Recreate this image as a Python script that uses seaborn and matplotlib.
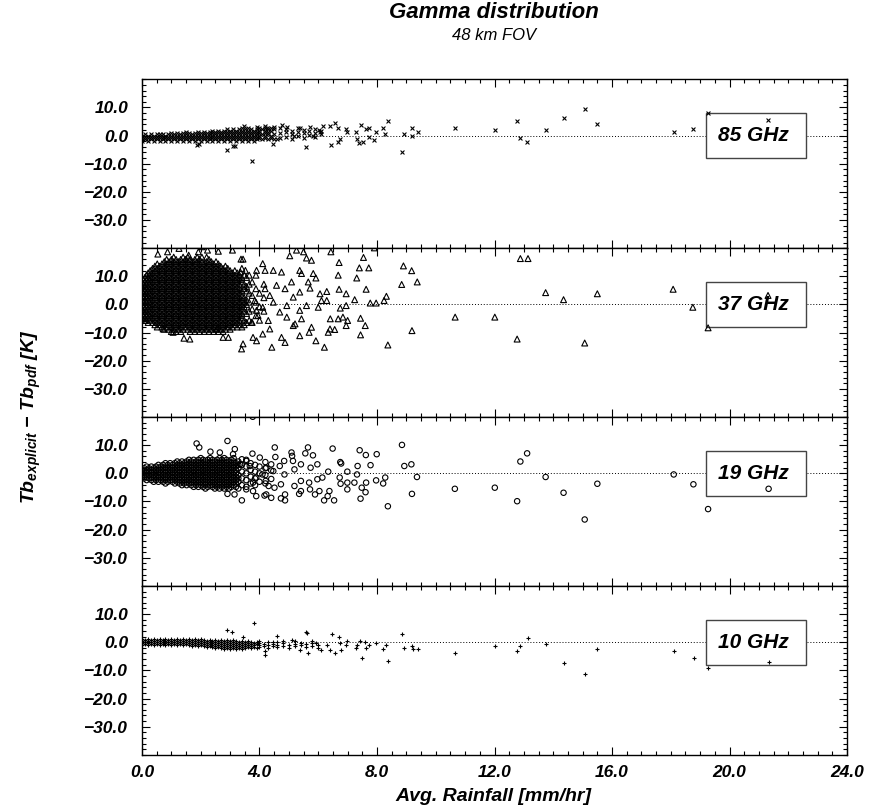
import numpy as np
import pandas as pd
import matplotlib
matplotlib.use("Agg")
import matplotlib.pyplot as plt
from matplotlib.patches import Rectangle
from matplotlib.ticker import MultipleLocator, FuncFormatter
import seaborn as sns

# ==========================================
# THEME
# ==========================================
sns.set_style("ticks")
plt.rcParams['font.family'] = ['Liberation Sans', 'DejaVu Sans']
plt.rcParams['font.weight'] = 'bold'
plt.rcParams['font.style'] = 'italic'
plt.rcParams['text.color'] = 'black'
plt.rcParams['axes.labelcolor'] = 'black'
plt.rcParams['xtick.color'] = 'black'
plt.rcParams['ytick.color'] = 'black'
plt.rcParams['mathtext.fontset'] = 'custom'
plt.rcParams['mathtext.rm'] = 'Liberation Sans:bold:italic'
plt.rcParams['mathtext.it'] = 'Liberation Sans:bold:italic'
plt.rcParams['mathtext.bf'] = 'Liberation Sans:bold:italic'

# ==========================================
# DATA
# ==========================================
channels = ["85 GHz", "37 GHz", "19 GHz", "10 GHz"]
y_ticks = [-30.0, -20.0, -10.0, 0.0, 10.0]
x_ticks = [0.0, 4.0, 8.0, 12.0, 16.0, 20.0, 24.0]

# --- 85 GHz: dense band near zero, one x per column ---
cloud85_x = [0.0, 0.1, 0.2, 0.3, 0.4, 0.5, 0.6, 0.7, 0.8, 0.9, 1.0, 1.1, 1.2, 1.3, 1.4,
             1.5, 1.6, 1.7, 1.8, 1.9, 2.0, 2.1, 2.2, 2.3, 2.4, 2.5, 2.6, 2.7, 2.8, 2.9,
             3.0, 3.1, 3.2, 3.3, 3.4, 3.5, 3.6, 3.7, 3.8, 3.9, 4.0, 4.1, 4.2, 4.3, 4.4,
             4.5, 4.7, 4.9, 5.1, 5.3, 5.5, 5.7, 5.9, 6.1]
cloud85_y = [[-1.8, -0.9, 0.0], [-1.35, -0.45, 0.45], [-1.8, -0.9, 0.0],
             [-1.35, -0.45, 0.45], [-1.8, -0.9, 0.0], [-1.35, -0.45, 0.45],
             [-1.8, -0.9, 0.0, 0.6], [-1.35, -0.45, 0.45], [-1.8, -0.9, 0.0],
             [-1.35, -0.45, 0.45], [-1.8, -0.9, 0.0, 0.9], [-1.35, -0.45, 0.45],
             [-1.8, -0.9, 0.0, 0.9], [-1.35, -0.45, 0.45], [-1.8, -0.9, 0.0, 0.9],
             [-1.35, -0.45, 0.45, 1.35], [-1.8, -0.9, 0.0, 0.9], [-1.35, -0.45, 0.45],
             [-1.8, -0.9, 0.0, 0.9], [-1.35, -0.45, 0.45, 1.35], [-1.8, -0.9, 0.0, 0.9],
             [-1.35, -0.45, 0.45, 1.35], [-1.8, -0.9, 0.0, 0.9], [-1.35, -0.45, 0.45, 1.35],
             [-1.8, -0.9, 0.0, 0.9, 1.8], [-1.35, -0.45, 0.45, 1.35],
             [-1.8, -0.9, 0.0, 0.9, 1.8], [-1.35, -0.45, 0.45, 1.35],
             [-1.8, -0.9, 0.0, 0.9, 1.8], [-1.35, -0.45, 0.45, 1.35, 2.25],
             [-1.8, -0.9, 0.0, 0.9, 1.8], [-1.35, -0.45, 0.45, 1.35, 2.25],
             [-1.8, -0.9, 0.0, 0.9, 1.8], [-1.35, -0.45, 0.45, 1.35, 2.25],
             [-1.8, -0.9, 0.0, 0.9, 1.8, 2.7], [-1.35, -0.45, 0.45, 1.35, 2.25],
             [-1.8, -0.9, 0.0, 0.9, 1.8, 2.7], [-1.35, -0.45, 0.45, 1.35, 2.25],
             [-1.8, -0.9, 0.0, 0.9, 1.8], [-1.35, -0.45, 0.45, 1.35, 2.25, 3.1],
             [-0.9, 0.0, 0.9, 1.8, 2.7], [-1.35, 0.45, 2.25], [-0.9, 0.0, 0.9, 1.8, 2.7],
             [-1.35, 0.45, 1.35, 2.25], [-0.9, 0.0, 1.8, 2.7], [-1.35, 0.45, 2.25, 3.1],
             [-0.9, 0.9, 2.7], [-0.4, 1.35, 2.25], [-1.2, 0.5, 1.8], [-0.3, 1.2, 2.6],
             [-0.8, 0.8, 2.0], [0.2, 1.6], [-0.5, 1.0, 2.4], [0.4, 1.8]]
out85_x = [1.86, 1.95, 2.88, 3.10, 3.15, 3.76, 3.46, 4.19, 4.24, 4.47, 4.58, 4.75, 4.93,
           5.16, 5.38, 5.60, 5.72, 5.83, 6.01, 6.06, 6.16, 6.40, 6.45, 6.56, 6.68, 6.74,
           6.68, 6.95, 6.98, 7.29, 7.31, 7.38, 7.45, 7.54, 7.63, 7.72, 7.72, 7.91, 7.95,
           8.22, 8.27, 8.37, 8.86, 8.93, 9.20, 9.19, 9.40, 10.66, 12.01, 12.77, 12.88,
           13.11, 13.74, 14.35, 15.07, 15.50, 18.10, 18.75, 19.27, 21.32]
out85_y = [-3.3, -2.9, -5.0, -3.8, -3.6, -8.9, 3.3, 3.3, 2.6, -3.0, -1.2, 3.6, 3.0,
           0.0, 2.6, -4.2, 3.0, 0.0, 2.1, 1.2, 3.3, 3.3, -3.3, 4.5, 2.6, -1.2,
           -2.4, 2.4, 1.4, 1.4, -1.2, -2.6, 3.6, -2.4, 2.4, 2.6, -0.6, -1.4, 1.4,
           2.6, 0.6, 5.2, -5.7, 0.6, 2.7, -0.2, 1.4, 2.7, 2.1, 5.1, -1.0,
           -2.4, 2.1, 6.2, 9.3, 4.2, 1.4, 2.4, 8.1, 5.7]

# --- 37 GHz: wide solid cloud ---
cloud37_x = [0.00, 0.05, 0.10, 0.15, 0.21, 0.28, 0.36, 0.44, 0.52, 0.60, 0.68, 0.76,
             0.84, 0.92, 1.00, 1.08, 1.16, 1.24, 1.32, 1.40, 1.48, 1.56, 1.64, 1.72,
             1.80, 1.88, 1.96, 2.04, 2.12, 2.20, 2.28, 2.36, 2.44, 2.52, 2.60, 2.68,
             2.76, 2.84, 2.92, 3.00, 3.08, 3.16, 3.24, 3.32, 3.40, 3.48, 3.56, 3.65,
             3.75, 3.88, 4.00, 4.15]
cloud37_y = [
    [-4.8, -3.2, -1.6, 0.0, 1.6, 3.2, 4.8, 6.4, 8.0],
    [-4.0, -2.4, -0.8, 0.8, 2.4, 4.0, 5.6, 7.2, 8.8],
    [-4.8, -3.2, -1.6, 0.0, 1.6, 3.2, 4.8, 6.4, 8.0, 9.6],
    [-5.6, -4.0, -2.4, -0.8, 0.8, 2.4, 4.0, 5.6, 7.2, 8.8, 10.4],
    [-6.4, -4.8, -3.2, -1.6, 0.0, 1.6, 3.2, 4.8, 6.4, 8.0, 9.6, 11.2],
    [-5.6, -4.0, -2.4, -0.8, 0.8, 2.4, 4.0, 5.6, 7.2, 8.8, 10.4, 12.0],
    [-6.4, -4.8, -3.2, -1.6, 0.0, 1.6, 3.2, 4.8, 6.4, 8.0, 9.6, 11.2, 12.8],
    [-7.2, -5.6, -4.0, -2.4, -0.8, 0.8, 2.4, 4.0, 5.6, 7.2, 8.8, 10.4, 12.0, 13.6],
    [-8.0, -6.4, -4.8, -3.2, -1.6, 0.0, 1.6, 3.2, 4.8, 6.4, 8.0, 9.6, 11.2, 12.8, 14.4],
    [-7.2, -5.6, -4.0, -2.4, -0.8, 0.8, 2.4, 4.0, 5.6, 7.2, 8.8, 10.4, 12.0, 13.6],
    [-8.0, -6.4, -4.8, -3.2, -1.6, 0.0, 1.6, 3.2, 4.8, 6.4, 8.0, 9.6, 11.2, 12.8, 14.4],
    [-8.8, -7.2, -5.6, -4.0, -2.4, -0.8, 0.8, 2.4, 4.0, 5.6, 7.2, 8.8, 10.4, 12.0, 13.6, 15.2],
    [-8.0, -6.4, -4.8, -3.2, -1.6, 0.0, 1.6, 3.2, 4.8, 6.4, 8.0, 9.6, 11.2, 12.8, 14.4, 16.0],
    [-8.8, -7.2, -5.6, -4.0, -2.4, -0.8, 0.8, 2.4, 4.0, 5.6, 7.2, 8.8, 10.4, 12.0, 13.6, 15.2],
    [-9.6, -8.0, -6.4, -4.8, -3.2, -1.6, 0.0, 1.6, 3.2, 4.8, 6.4, 8.0, 9.6, 11.2, 12.8, 14.4, 16.0],
    [-8.8, -7.2, -5.6, -4.0, -2.4, -0.8, 0.8, 2.4, 4.0, 5.6, 7.2, 8.8, 10.4, 12.0, 13.6, 15.2, 16.8],
    [-9.6, -8.0, -6.4, -4.8, -3.2, -1.6, 0.0, 1.6, 3.2, 4.8, 6.4, 8.0, 9.6, 11.2, 12.8, 14.4, 16.0],
    [-8.8, -7.2, -5.6, -4.0, -2.4, -0.8, 0.8, 2.4, 4.0, 5.6, 7.2, 8.8, 10.4, 12.0, 13.6, 15.2],
    [-9.6, -8.0, -6.4, -4.8, -3.2, -1.6, 0.0, 1.6, 3.2, 4.8, 6.4, 8.0, 9.6, 11.2, 12.8, 14.4, 16.0],
    [-8.8, -7.2, -5.6, -4.0, -2.4, -0.8, 0.8, 2.4, 4.0, 5.6, 7.2, 8.8, 10.4, 12.0, 13.6, 15.2, 16.8],
    [-8.0, -6.4, -4.8, -3.2, -1.6, 0.0, 1.6, 3.2, 4.8, 6.4, 8.0, 9.6, 11.2, 12.8, 14.4, 16.0],
    [-8.8, -7.2, -5.6, -4.0, -2.4, -0.8, 0.8, 2.4, 4.0, 5.6, 7.2, 8.8, 10.4, 12.0, 13.6, 15.2, 16.8],
    [-9.6, -8.0, -6.4, -4.8, -3.2, -1.6, 0.0, 1.6, 3.2, 4.8, 6.4, 8.0, 9.6, 11.2, 12.8, 14.4, 16.0],
    [-8.8, -7.2, -5.6, -4.0, -2.4, -0.8, 0.8, 2.4, 4.0, 5.6, 7.2, 8.8, 10.4, 12.0, 13.6, 15.2],
    [-9.6, -8.0, -6.4, -4.8, -3.2, -1.6, 0.0, 1.6, 3.2, 4.8, 6.4, 8.0, 9.6, 11.2, 12.8, 14.4, 16.0],
    [-8.8, -7.2, -5.6, -4.0, -2.4, -0.8, 0.8, 2.4, 4.0, 5.6, 7.2, 8.8, 10.4, 12.0, 13.6, 15.2, 16.8],
    [-9.6, -8.0, -6.4, -4.8, -3.2, -1.6, 0.0, 1.6, 3.2, 4.8, 6.4, 8.0, 9.6, 11.2, 12.8, 14.4, 16.0],
    [-8.8, -7.2, -5.6, -4.0, -2.4, -0.8, 0.8, 2.4, 4.0, 5.6, 7.2, 8.8, 10.4, 12.0, 13.6, 15.2, 16.8],
    [-9.6, -8.0, -6.4, -4.8, -3.2, -1.6, 0.0, 1.6, 3.2, 4.8, 6.4, 8.0, 9.6, 11.2, 12.8, 14.4],
    [-8.8, -7.2, -5.6, -4.0, -2.4, -0.8, 0.8, 2.4, 4.0, 5.6, 7.2, 8.8, 10.4, 12.0, 13.6, 15.2, 16.8],
    [-9.6, -8.0, -6.4, -4.8, -3.2, -1.6, 0.0, 1.6, 3.2, 4.8, 6.4, 8.0, 9.6, 11.2, 12.8, 14.4, 16.0],
    [-8.8, -7.2, -5.6, -4.0, -2.4, -0.8, 0.8, 2.4, 4.0, 5.6, 7.2, 8.8, 10.4, 12.0, 13.6, 15.2],
    [-9.6, -8.0, -6.4, -4.8, -3.2, -1.6, 0.0, 1.6, 3.2, 4.8, 6.4, 8.0, 9.6, 11.2, 12.8, 14.4],
    [-8.8, -7.2, -5.6, -4.0, -2.4, -0.8, 0.8, 2.4, 4.0, 5.6, 7.2, 8.8, 10.4, 12.0, 13.6, 15.2],
    [-9.6, -8.0, -6.4, -4.8, -3.2, -1.6, 0.0, 1.6, 3.2, 4.8, 6.4, 8.0, 9.6, 11.2, 12.8, 14.4],
    [-8.8, -7.2, -5.6, -4.0, -2.4, -0.8, 0.8, 2.4, 4.0, 5.6, 7.2, 8.8, 10.4, 12.0, 13.6],
    [-9.6, -8.0, -6.4, -4.8, -3.2, -1.6, 0.0, 1.6, 3.2, 4.8, 6.4, 8.0, 9.6, 11.2, 12.8],
    [-8.8, -7.2, -5.6, -4.0, -2.4, -0.8, 0.8, 2.4, 4.0, 5.6, 7.2, 8.8, 10.4, 12.0, 13.6],
    [-8.0, -6.4, -4.8, -3.2, -1.6, 0.0, 1.6, 3.2, 4.8, 6.4, 8.0, 9.6, 11.2, 12.8],
    [-8.8, -7.2, -5.6, -4.0, -2.4, -0.8, 0.8, 2.4, 4.0, 5.6, 7.2, 8.8, 10.4, 12.0],
    [-8.0, -6.4, -4.8, -3.2, -1.6, 0.0, 1.6, 3.2, 4.8, 6.4, 8.0, 9.6, 11.2],
    [-7.2, -5.6, -4.0, -2.4, -0.8, 0.8, 2.4, 4.0, 5.6, 7.2, 8.8, 10.4, 12.0],
    [-8.0, -6.4, -4.8, -3.2, -1.6, 0.0, 1.6, 3.2, 4.8, 6.4, 8.0, 9.6, 11.2],
    [-7.2, -5.6, -4.0, -2.4, -0.8, 0.8, 2.4, 4.0, 5.6, 7.2, 8.8, 10.4],
    [-8.0, -4.8, -3.2, -1.6, 0.0, 1.6, 3.2, 4.8, 8.0, 9.6, 12.8],
    [-7.2, -5.6, -2.4, -0.8, 0.8, 2.4, 5.6, 7.2, 10.4],
    [-6.4, -3.2, 0.0, 1.6, 4.8, 6.4, 9.6],
    [-5.6, -2.4, 0.8, 4.0, 7.2, 10.4],
    [-6.4, -1.6, 3.2, 8.0],
    [-4.0, 0.8, 5.6, 10.4],
    [-5.6, -0.8, 4.0],
    [-2.4, 2.4, 7.2]]
out37_x = [0.54, 0.87, 1.26, 1.59, 1.92, 2.05, 2.23, 2.60, 3.08, 3.37, 3.44, 3.35, 3.52,
           3.90, 4.11, 4.19, 4.47, 4.75, 5.03, 5.26, 5.50, 5.60, 5.77, 5.37, 5.43, 5.83,
           5.92, 5.66, 5.72, 6.06, 6.29, 6.11, 6.29, 6.00, 6.43, 6.71, 6.68, 6.71, 6.95,
           6.95, 6.75, 7.24, 7.31, 7.40, 7.72, 7.54, 7.63, 7.77, 7.97, 7.91, 8.24, 8.32,
           8.90, 9.18, 8.84, 9.37, 8.37, 9.19, 10.66, 12.01, 12.77, 6.41, 6.68, 6.84,
           6.95, 7.00, 7.44, 7.60, 7.44, 6.34, 6.40, 6.56, 6.21, 5.92, 5.37, 5.69, 5.77,
           5.43, 5.21, 4.93, 4.87, 4.42, 4.75, 4.11, 3.90, 3.78, 3.44, 3.39, 2.94, 2.76,
           2.55, 1.63, 1.43, 1.06, 0.72, 0.10, 4.47, 4.69, 4.93, 5.15, 5.37, 5.60, 4.30,
           4.35, 5.15, 4.19, 4.35, 4.58, 4.87, 5.09, 5.37, 3.84, 3.90, 3.95, 3.73, 4.11,
           12.88, 13.14, 13.74, 14.35, 15.07, 15.50, 18.08, 18.75, 19.27, 21.31]
out37_y = [17.9, 18.7, 19.9, 17.5, 18.7, 20.5, 19.3, 18.9, 19.3, 16.1, 16.1, 11.5, 12.1,
           12.1, 14.5, 12.1, 12.1, 11.5, 17.3, 19.3, 18.7, 16.5, 15.7, 12.1, 11.0, 11.0,
           9.4, 8.0, 5.8, 3.8, 4.6, 1.4, 1.4, -1.0, 18.7, 14.9, 10.4, 5.4, 3.8,
           -0.4, -1.3, 1.7, 9.4, 13.0, 13.0, 16.7, 5.4, 0.5, 0.5, 20.1, 1.4, 2.9,
           13.7, 12.0, 7.1, 8.0, -14.4, -9.3, -4.5, -4.5, -12.3, -5.1, -5.1, -4.5,
           -7.5, -5.7, -4.9, -7.5, -10.8, -9.9, -8.7, -8.9, -15.2, -12.9, -11.1, -9.9, -8.1,
           -5.1, -6.9, -4.5, -13.5, -15.2, -11.7, -10.5, -12.9, -11.7, -14.0, -15.8, -11.7, -11.7,
           -8.7, -12.3, -12.0, -9.9, -8.7, -5.7, 0.8, -2.7, -0.4, 2.6, -2.1, -0.4, -5.7,
           -8.7, -7.5, 5.6, 3.2, 6.8, 5.6, 8.0, 4.4, 1.4, -2.1, -3.9, -6.3, -1.0,
           16.3, 16.3, 4.2, 1.7, -13.7, 3.8, 5.4, -1.0, -8.3, 3.2]

# --- 19 GHz: medium solid cloud ---
cloud19_x = [0.00, 0.08, 0.16, 0.24, 0.32, 0.40, 0.48, 0.56, 0.64, 0.72, 0.80, 0.88,
             0.96, 1.04, 1.12, 1.20, 1.28, 1.36, 1.44, 1.52, 1.60, 1.68, 1.76, 1.84,
             1.92, 2.00, 2.08, 2.16, 2.24, 2.32, 2.40, 2.48, 2.56, 2.64, 2.72, 2.80,
             2.88, 2.96, 3.04, 3.12, 3.20, 3.28, 3.40, 3.55, 3.70, 3.85, 4.00, 4.20,
             4.40]
cloud19_y = [
    [-1.2, 0.0, 1.2],
    [-1.8, -0.6, 0.6, 1.8],
    [-2.4, -1.2, 0.0, 1.2, 2.4],
    [-1.8, -0.6, 0.6, 1.8],
    [-2.4, -1.2, 0.0, 1.2, 2.4],
    [-3.0, -1.8, -0.6, 0.6, 1.8],
    [-2.4, -1.2, 0.0, 1.2, 2.4],
    [-3.0, -1.8, -0.6, 0.6, 1.8, 3.0],
    [-2.4, -1.2, 0.0, 1.2, 2.4],
    [-3.0, -1.8, -0.6, 0.6, 1.8, 3.0],
    [-3.6, -2.4, -1.2, 0.0, 1.2, 2.4, 3.6],
    [-3.0, -1.8, -0.6, 0.6, 1.8, 3.0],
    [-2.4, -1.2, 0.0, 1.2, 2.4, 3.6],
    [-3.0, -1.8, -0.6, 0.6, 1.8, 3.0],
    [-3.6, -2.4, -1.2, 0.0, 1.2, 2.4, 3.6],
    [-3.0, -1.8, -0.6, 0.6, 1.8, 3.0, 4.2],
    [-3.6, -2.4, -1.2, 0.0, 1.2, 2.4, 3.6],
    [-4.2, -3.0, -1.8, -0.6, 0.6, 1.8, 3.0, 4.2],
    [-3.6, -2.4, -1.2, 0.0, 1.2, 2.4, 3.6],
    [-4.2, -3.0, -1.8, -0.6, 0.6, 1.8, 3.0, 4.2],
    [-3.6, -2.4, -1.2, 0.0, 1.2, 2.4, 3.6, 4.8],
    [-4.2, -3.0, -1.8, -0.6, 0.6, 1.8, 3.0, 4.2],
    [-4.8, -3.6, -2.4, -1.2, 0.0, 1.2, 2.4, 3.6, 4.8],
    [-4.2, -3.0, -1.8, -0.6, 0.6, 1.8, 3.0, 4.2],
    [-4.8, -3.6, -2.4, -1.2, 0.0, 1.2, 2.4, 3.6, 4.8],
    [-4.2, -3.0, -1.8, -0.6, 0.6, 1.8, 3.0, 4.2, 5.4],
    [-4.8, -3.6, -2.4, -1.2, 0.0, 1.2, 2.4, 3.6, 4.8],
    [-5.4, -4.2, -3.0, -1.8, -0.6, 0.6, 1.8, 3.0, 4.2],
    [-4.8, -3.6, -2.4, -1.2, 0.0, 1.2, 2.4, 3.6, 4.8],
    [-4.2, -3.0, -1.8, -0.6, 0.6, 1.8, 3.0, 4.2, 5.4],
    [-4.8, -3.6, -2.4, -1.2, 0.0, 1.2, 2.4, 3.6, 4.8],
    [-5.4, -4.2, -3.0, -1.8, -0.6, 0.6, 1.8, 3.0, 4.2],
    [-4.8, -3.6, -2.4, -1.2, 0.0, 1.2, 2.4, 3.6, 4.8],
    [-5.4, -4.2, -3.0, -1.8, -0.6, 0.6, 1.8, 3.0, 4.2, 5.4],
    [-4.8, -3.6, -2.4, -1.2, 0.0, 1.2, 2.4, 3.6, 4.8],
    [-5.4, -4.2, -3.0, -1.8, -0.6, 0.6, 1.8, 3.0, 4.2, 5.4],
    [-4.8, -3.6, -2.4, -1.2, 0.0, 1.2, 2.4, 3.6, 4.8],
    [-5.4, -4.2, -3.0, -1.8, -0.6, 0.6, 1.8, 3.0, 4.2],
    [-4.8, -3.6, -2.4, -1.2, 0.0, 1.2, 2.4, 3.6, 4.8],
    [-4.2, -3.0, -1.8, -0.6, 0.6, 1.8, 3.0, 4.2, 5.4],
    [-4.8, -3.6, -2.4, -1.2, 0.0, 1.2, 2.4, 3.6],
    [-5.4, -3.0, -1.8, -0.6, 1.8, 3.0, 4.2],
    [-4.2, -1.8, 0.6, 3.0, 5.0],
    [-4.8, -2.4, 0.0, 2.4, 4.8],
    [-3.6, -1.2, 1.2, 3.6],
    [-4.2, -1.8, 0.6, 3.0],
    [-3.0, 0.0, 2.4],
    [-3.6, -0.6, 1.8, 4.0],
    [-2.0, 1.0, 3.2]]
out19_x = [3.77, 1.86, 1.95, 2.91, 3.16, 2.33, 2.65, 3.10, 3.76, 4.01, 4.52, 4.54, 4.84,
           5.09, 5.11, 5.65, 5.56, 5.82, 5.97, 6.34, 6.49, 6.75, 6.78, 7.41, 7.62, 7.99,
           7.78, 7.34, 7.32, 6.99, 6.73, 6.99, 6.99, 6.76, 7.23, 7.48, 7.61, 7.44, 7.63,
           7.97, 8.28, 8.21, 8.37, 8.85, 8.93, 9.17, 9.36, 9.19, 10.65, 6.20, 6.32, 6.54,
           6.38, 6.04, 5.89, 5.72, 5.35, 5.41, 4.87, 4.73, 4.87, 4.40, 4.17, 4.23, 3.89,
           3.40, 3.15, 2.91, 3.78, 3.55, 4.51, 4.73, 5.19, 5.41, 5.69, 5.97, 6.14, 4.85,
           5.19, 5.41, 5.74, 4.23, 4.47, 4.69, 5.14, 4.10, 4.21, 4.31, 3.78, 3.89, 3.67,
           3.55, 3.34, 12.01, 12.77, 12.88, 13.11, 13.74, 14.35, 15.07, 15.50, 18.10,
           18.77, 19.27, 21.33]
out19_y = [20.1, 10.6, 9.2, 11.5, 8.6, 7.7, 7.4, 6.8, 7.0, 5.6, 9.2, 5.8, 4.4,
           7.4, 6.2, 9.2, 7.1, 6.4, 3.2, 0.6, 8.8, 4.0, 3.5, 8.2, 6.5, 6.8,
           2.9, 2.6, -0.4, 0.6, -1.5, -3.3, -5.7, -3.7, -3.3, -5.1, -6.7, -9.0, -3.3,
           -2.5, -1.5, -3.6, -11.7, 10.1, 2.6, 3.2, -1.3, -7.3, -5.5, -9.6, -8.1, -9.6,
           -6.3, -6.3, -7.5, -5.7, -7.3, -6.3, -9.6, -8.9, -7.5, -8.7, -7.9, -7.5, -8.1,
           -9.6, -7.5, -7.3, -6.3, -5.7, -5.1, -3.9, -4.5, -2.7, -3.3, -2.1, -1.5, -0.4,
           1.4, 3.2, 2.0, 2.0, 0.8, 2.6, 4.4, -0.4, -2.7, -4.5, -3.3, -1.5, 2.6,
           4.4, 3.2, -5.1, -9.9, 4.2, 7.1, -1.3, -6.9, -16.4, -3.7, -0.4,
           -3.9, -12.7, -5.5]

# --- 10 GHz: thin band ---
cloud10_x = [0.0, 0.1, 0.2, 0.3, 0.4, 0.5, 0.6, 0.7, 0.8, 0.9, 1.0, 1.1, 1.2, 1.3, 1.4,
             1.5, 1.6, 1.7, 1.8, 1.9, 2.0, 2.1, 2.2, 2.3, 2.4, 2.5, 2.6, 2.7, 2.8, 2.9,
             3.0, 3.1, 3.2, 3.3, 3.4, 3.5, 3.6, 3.7, 3.8, 3.9, 4.0, 4.15, 4.3, 4.45,
             4.6, 4.8, 5.0, 5.2, 5.4, 5.6, 5.8, 6.0]
cloud10_y = [[-0.9, -0.2, 0.5, 1.2], [-0.55, 0.15, 0.85], [-0.9, -0.2, 0.5, 1.2],
             [-0.55, 0.15, 0.85], [-0.9, -0.2, 0.5, 1.2], [-0.55, 0.15, 0.85],
             [-0.9, -0.2, 0.5, 1.2], [-0.55, 0.15, 0.85], [-0.9, -0.2, 0.5, 1.2],
             [-0.55, 0.15, 0.85], [-0.9, -0.2, 0.5, 1.2], [-0.55, 0.15, 0.85],
             [-0.9, -0.2, 0.5, 1.2], [-0.55, 0.15, 0.85], [-0.9, -0.2, 0.5, 1.2],
             [-0.55, 0.15, 0.85], [-0.9, -0.2, 0.5, 1.2], [-1.25, -0.55, 0.15, 0.85],
             [-0.9, -0.2, 0.5, 1.2], [-1.25, -0.55, 0.15, 0.85], [-0.9, -0.2, 0.5, 1.2],
             [-1.25, -0.55, 0.15, 0.85], [-1.6, -0.9, -0.2, 0.5], [-1.25, -0.55, 0.15, 0.85],
             [-1.6, -0.9, -0.2, 0.5], [-1.95, -1.25, -0.55, 0.15, 0.85],
             [-1.6, -0.9, -0.2, 0.5], [-1.95, -1.25, -0.55, 0.15, 0.85],
             [-2.3, -1.6, -0.9, -0.2, 0.5], [-1.95, -1.25, -0.55, 0.15, 0.85],
             [-2.3, -1.6, -0.9, -0.2, 0.5], [-1.95, -1.25, -0.55, 0.15, 0.85],
             [-2.3, -1.6, -0.9, -0.2, 0.5], [-1.95, -1.25, -0.55, 0.15],
             [-2.3, -1.6, -0.9, -0.2, 0.5], [-1.95, -1.25, -0.55, 0.15],
             [-1.6, -0.9, -0.2, 0.5], [-1.95, -1.25, -0.55, 0.15], [-1.6, -0.9, -0.2],
             [-1.95, -0.55, 0.15], [-1.6, -0.9, -0.2, 0.5], [-1.25, -0.55],
             [-2.0, -0.9, 0.2], [-1.4, -0.6], [-1.8, -0.9, 0.0], [-1.2, -0.4, 0.4],
             [-1.9, -1.0], [-1.5, -0.6, 0.3], [-1.1, -0.2], [-1.7, -0.8],
             [-1.3, -0.4, 0.4], [-0.9, -2.0]]
out10_x = [3.80, 2.91, 3.08, 3.44, 4.18, 4.18, 4.58, 4.47, 5.09, 5.38, 5.60, 5.62, 5.65,
           5.94, 6.11, 6.29, 6.46, 6.40, 6.57, 6.71, 6.74, 6.76, 6.98, 6.96, 7.29, 7.33,
           7.43, 7.49, 7.58, 7.63, 7.72, 7.95, 8.21, 8.31, 8.37, 8.85, 8.93, 9.19, 9.22,
           9.40, 10.65, 12.01, 12.77, 12.88, 13.14, 13.74, 14.35, 15.07, 15.50, 18.10,
           18.78, 19.27, 21.33]
out10_y = [6.8, 4.4, 3.6, 2.0, -4.5, -3.3, 2.3, 0.2, 0.8, -2.7, 3.8, 3.2, -3.9,
           -0.4, -2.7, -1.0, 2.9, -2.7, -3.7, 2.0, -0.4, -2.7, 0.6, -1.0, -2.1, -1.0,
           0.6, -5.7, 0.2, -2.1, -1.0, -0.4, -2.5, -1.0, -6.5, 2.9, -2.1, -1.3, -2.5,
           -2.5, -3.7, -1.5, -3.0, -1.3, 1.4, -0.6, -7.5, -11.3, -2.5, -3.3,
           -5.5, -9.3, -6.9]

clouds = {"85 GHz": (cloud85_x, cloud85_y, out85_x, out85_y),
          "37 GHz": (cloud37_x, cloud37_y, out37_x, out37_y),
          "19 GHz": (cloud19_x, cloud19_y, out19_x, out19_y),
          "10 GHz": (cloud10_x, cloud10_y, out10_x, out10_y)}

rows = []
for ch, (cx, cy, ox, oy) in clouds.items():
    for x, ys in zip(cx, cy):
        rows += [(ch, x, y) for y in ys]
    rows += [(ch, x, y) for x, y in zip(ox, oy)]
df = pd.DataFrame(rows, columns=["channel", "rain", "dtb"])

# marker style per channel: (marker, size, open face?)
marker_style = {"85 GHz": ("x", 8, False),
                "37 GHz": ("^", 18, True),
                "19 GHz": ("o", 15, True),
                "10 GHz": ("+", 11, False)}

# ==========================================
# FIGURE
# ==========================================
fig, axes = plt.subplots(4, 1, figsize=(8.71, 8.09), dpi=100, sharex=True)
fig.subplots_adjust(left=0.163, right=0.9725, top=0.902, bottom=0.067, hspace=0)

minus_fmt = FuncFormatter(lambda v, p: f"{v:.1f}".replace("-", "\u2212"))

for ax, ch in zip(axes, channels):
    sub = df[df["channel"] == ch]
    mk, size, hollow = marker_style[ch]

    ax.axhline(0, color="black", lw=0.7, ls=(0, (1, 2)), zorder=1)
    ax.add_patch(Rectangle((19.2, -8.0), 3.4, 16.0, fc="white", ec="#444444",
                           lw=1.0, zorder=2))

    if hollow:
        sns.scatterplot(data=sub, x="rain", y="dtb", marker=mk, s=size,
                        facecolors="none", edgecolor="black", linewidth=0.8,
                        ax=ax, zorder=3)
    else:
        sns.scatterplot(data=sub, x="rain", y="dtb", marker=mk, s=size,
                        color="black", linewidth=0.8, ax=ax, zorder=3)

    ax.text(20.8, 0, ch, ha="center", va="center", fontsize=15,
            fontweight="bold", style="italic", color="black", zorder=4)

    ax.set_xlim(0, 24)
    ax.set_ylim(-40, 20)
    ax.set_yticks(y_ticks)
    ax.yaxis.set_major_formatter(minus_fmt)
    ax.yaxis.set_minor_locator(MultipleLocator(2))
    ax.set_xticks(x_ticks)
    ax.xaxis.set_minor_locator(MultipleLocator(0.5))
    ax.tick_params(which="both", direction="in", top=True, right=True,
                   width=0.8, colors="black", labelsize=12.5)
    ax.tick_params(which="major", length=6)
    ax.tick_params(which="minor", length=3)
    ax.tick_params(axis="y", pad=10)
    ax.set_xlabel("")
    ax.set_ylabel("")
    for s in ax.spines.values():
        s.set_color("black")
        s.set_linewidth(1.0)

axes[-1].xaxis.set_major_formatter(FuncFormatter(lambda v, p: f"{v:.1f}"))
axes[-1].tick_params(axis="x", pad=7)

fig.text(0.567, 0.984, "Gamma distribution", ha="center", va="center",
         fontsize=16, fontweight="bold", style="italic", color="black")
fig.text(0.567, 0.956, "48 km FOV", ha="center", va="center",
         fontsize=12, fontweight="normal", style="italic", color="black")
fig.text(0.567, 0.016, "Avg. Rainfall [mm/hr]", ha="center", va="center",
         fontsize=14, fontweight="bold", style="italic", color="black")
fig.text(0.036, 0.485, r"Tb$_{explicit}$ $-$ Tb$_{pdf}$ [K]", ha="center",
         va="center", rotation=90, fontsize=14, fontweight="bold", style="italic",
         color="black")

plt.savefig("out.png", dpi=100)
plt.close()
